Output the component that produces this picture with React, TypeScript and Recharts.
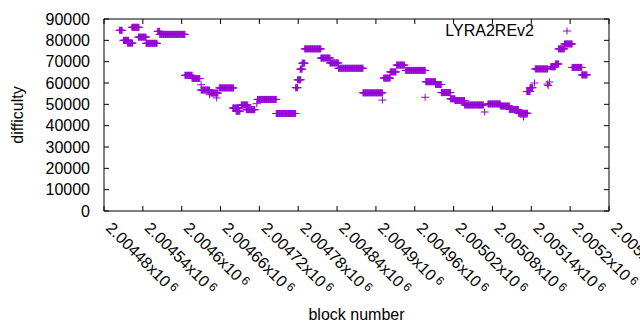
import { ScatterChart, Scatter, XAxis, YAxis, Legend } from 'recharts'

const BASE_BLOCK = 2004480

// stretches of constant difficulty (block offsets from BASE_BLOCK)
const runStart = [24, 30, 36, 43, 53, 65, 83, 86, 125, 136, 150, 165, 178, 199, 204, 212, 220, 237, 266, 296, 299, 303, 306, 310, 335, 349, 362, 400, 432, 442, 452, 466, 497, 512, 521, 535, 542, 557, 593, 612, 626, 640, 653, 658, 666, 690, 697, 702, 711, 723, 738]
const runEnd = [28, 38, 44, 54, 65, 82, 86, 125, 136, 148, 163, 176, 200, 208, 210, 222, 233, 266, 296, 299, 304, 306, 310, 335, 349, 362, 400, 430, 442, 451, 464, 496, 512, 521, 535, 542, 557, 586, 612, 626, 640, 654, 658, 662, 685, 697, 702, 711, 723, 738, 746]
const runDifficulty = [84700, 80000, 78700, 86100, 81500, 78600, 84200, 82800, 63600, 62100, 56700, 55300, 57700, 48300, 46800, 49700, 47500, 52300, 45700, 57800, 61500, 66500, 69300, 76000, 71700, 69400, 66900, 55400, 62300, 65200, 68400, 65900, 60600, 59300, 55500, 52600, 51800, 49700, 50200, 49200, 47600, 45800, 56000, 57800, 66600, 67600, 68900, 76000, 78300, 67300, 63800]

// isolated blocks
const singleBlock = [150, 163, 174, 236, 430, 496, 588, 648, 665, 685, 686, 688]
const singleDifficulty = [59200, 54500, 53000, 50300, 52000, 53300, 46400, 44000, 60000, 59500, 58800, 60500]

const xTicks = [2004480, 2004540, 2004600, 2004660, 2004720, 2004780, 2004840, 2004900, 2004960, 2005020, 2005080, 2005140, 2005200, 2005260]
const xTickLabels = ['2.00448', '2.00454', '2.0046', '2.00466', '2.00472', '2.00478', '2.00484', '2.0049', '2.00496', '2.00502', '2.00508', '2.00514', '2.0052', '2.00526']
const yTicks = [0, 10000, 20000, 30000, 40000, 50000, 60000, 70000, 80000, 90000]

const COLOR = '#9400D3'
const FONT = '"Liberation Sans", Arial, sans-serif'

const data: { block: number; difficulty: number }[] = []
runStart.forEach((s, i) => {
  for (let b = s; b <= runEnd[i]; b++) data.push({ block: BASE_BLOCK + b, difficulty: runDifficulty[i] })
})
singleBlock.forEach((b, i) => data.push({ block: BASE_BLOCK + b, difficulty: singleDifficulty[i] }))

function Plus(props: any) {
  const { cx, cy } = props
  return <path d={`M${cx - 4},${cy}h8M${cx},${cy - 3.5}v7`} stroke={COLOR} strokeWidth={1} fill="none" />
}

function Nothing() {
  return <g />
}

function XTick(props: any) {
  const { x, y, payload } = props
  const label = xTickLabels[xTicks.indexOf(payload.value)]
  return (
    <text x={x + 1} y={y} transform={`rotate(45 ${x + 1} ${y})`} fontSize={16} fontFamily={FONT} fill="#000">
      {label}x10<tspan fontSize={12} dx={3} dy={-4}>6</tspan>
    </text>
  )
}

function KeyBox(props: any) {
  const name = props.payload && props.payload[0] ? props.payload[0].value : ''
  return (
    <div style={{ display: 'flex', alignItems: 'center', fontFamily: FONT, fontSize: 16, color: '#000' }}>
      <span style={{ width: 100, textAlign: 'right' }}>{name}</span>
      <svg width={50} height={16}>
        <path d="M29,8h8M33,4.5v7" stroke={COLOR} strokeWidth={1} fill="none" />
      </svg>
    </div>
  )
}

export default function App() {
  return (
    <div style={{ position: 'absolute', left: 0, top: 0, width: 640, height: 330, overflow: 'hidden', background: '#fff' }}>
      <ScatterChart width={640} height={330} margin={{ top: 18, right: 30, left: 0, bottom: 0 }}>
        <XAxis
          dataKey="block"
          type="number"
          domain={[2004480, 2005260]}
          ticks={xTicks}
          interval={0}
          allowDataOverflow
          height={119}
          tickSize={-5}
          tickMargin={23}
          stroke="#000"
          tick={<XTick />}
          label={{
            content: (p: any) => (
              <text x={p.viewBox.x + p.viewBox.width / 2} y={p.viewBox.y + 109} textAnchor="middle" fontSize={16} fontFamily={FONT} fill="#000">
                block number
              </text>
            ),
          }}
        />
        <XAxis
          xAxisId="top"
          dataKey="block"
          orientation="top"
          type="number"
          domain={[2004480, 2005260]}
          ticks={xTicks}
          interval={0}
          height={1}
          tickSize={-5}
          tick={<Nothing />}
          stroke="#000"
          allowDataOverflow
        />
        <YAxis
          dataKey="difficulty"
          type="number"
          domain={[0, 90000]}
          ticks={yTicks}
          interval={0}
          width={104}
          tickSize={-5}
          tickMargin={19}
          stroke="#000"
          tick={{ fontSize: 16, fontFamily: FONT, fill: '#000' }}
          label={{
            content: (p: any) => (
              <text
                x={17}
                y={p.viewBox.y + p.viewBox.height / 2}
                transform={`rotate(-90 17 ${p.viewBox.y + p.viewBox.height / 2})`}
                textAnchor="middle"
                dominantBaseline="central"
                fontSize={16}
                fontFamily={FONT}
                fill="#000"
              >
                difficulty
              </text>
            ),
          }}
        />
        <YAxis
          yAxisId="right"
          dataKey="difficulty"
          orientation="right"
          type="number"
          domain={[0, 90000]}
          ticks={yTicks}
          interval={0}
          width={1}
          tickSize={-5}
          tick={<Nothing />}
          stroke="#000"
          allowDataOverflow
        />
        <Legend layout="vertical" align="center" verticalAlign="middle" wrapperStyle={{ top: 22, left: 434, width: 160 }} content={<KeyBox />} />
        <Scatter name="LYRA2REv2" data={data} fill={COLOR} shape={<Plus />} isAnimationActive={false} />
        <Scatter xAxisId="top" yAxisId="right" data={data} shape={<Nothing />} legendType="none" isAnimationActive={false} />
      </ScatterChart>
    </div>
  )
}
